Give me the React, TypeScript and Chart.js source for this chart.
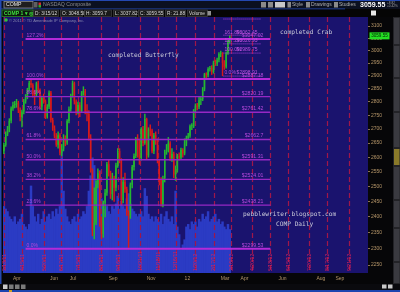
import React, { useEffect, useRef } from "react";
import { Chart, registerables } from "chart.js";

Chart.register(...registerables);

// ---- data (2-trading-day candles from 3/18/11 to 3/15/12) ----
const sessionStep = 2;
const firstOpen = 2621;
const closes = [
  2643, 2683, 2699, 2730, 2776, 2789, 2791, 2796, 2771, 2744, 2764, 2802, 2820, 2847, 2872,
  2864, 2828, 2827, 2871, 2845, 2783, 2815, 2803, 2746, 2782, 2835, 2733, 2702, 2676, 2644,
  2678, 2616, 2630, 2669, 2652, 2729, 2773, 2825, 2872, 2802, 2762, 2789, 2766, 2834, 2842,
  2764, 2756, 2669, 2556, 2357, 2381, 2507, 2545, 2381, 2345, 2446, 2479, 2576, 2546, 2474,
  2529, 2496, 2572, 2622, 2590, 2455, 2516, 2491, 2415, 2404, 2506, 2566, 2604, 2667, 2658,
  2598, 2699, 2650, 2737, 2606, 2698, 2695, 2621, 2678, 2658, 2587, 2523, 2441, 2527, 2620,
  2626, 2649, 2596, 2612, 2540, 2555, 2603, 2599, 2625, 2613, 2648, 2669, 2676, 2710, 2710,
  2769, 2786, 2782, 2806, 2811, 2848, 2906, 2902, 2927, 2931, 2915, 2952, 2948, 2963, 2987,
  2988, 2950, 2935, 2989, 3040, 3056,
];
const highs = [
  2650, 2690, 2710, 2738, 2782, 2800, 2802, 2810, 2803, 2778, 2770, 2810, 2828, 2852, 2880,
  2887, 2870, 2845, 2876, 2880, 2850, 2822, 2830, 2808, 2790, 2842, 2840, 2740, 2712, 2684,
  2690, 2684, 2645, 2680, 2676, 2735, 2782, 2830, 2880, 2876, 2808, 2800, 2798, 2840, 2858,
  2848, 2790, 2768, 2680, 2560, 2495, 2520, 2560, 2552, 2400, 2452, 2490, 2582, 2590, 2552,
  2545, 2535, 2580, 2630, 2630, 2595, 2530, 2545, 2498, 2420, 2512, 2572, 2612, 2670, 2680,
  2664, 2705, 2710, 2755, 2740, 2705, 2715, 2700, 2685, 2690, 2665, 2592, 2530, 2535, 2625,
  2645, 2670, 2655, 2630, 2618, 2570, 2610, 2615, 2632, 2630, 2665, 2675, 2685, 2715, 2720,
  2772, 2793, 2795, 2820, 2818, 2855, 2910, 2912, 2932, 2937, 2940, 2958, 2962, 2970, 2992,
  2998, 2992, 2960, 2995, 3045, 3060,
];
const lows = [
  2612, 2638, 2676, 2690, 2722, 2768, 2778, 2780, 2760, 2730, 2708, 2755, 2795, 2812, 2840,
  2855, 2818, 2790, 2820, 2835, 2775, 2770, 2795, 2738, 2740, 2775, 2725, 2695, 2668, 2638,
  2632, 2608, 2605, 2622, 2640, 2645, 2722, 2765, 2818, 2792, 2752, 2755, 2745, 2760, 2825,
  2755, 2730, 2660, 2548, 2340, 2330, 2375, 2495, 2370, 2330, 2335, 2400, 2470, 2535, 2460,
  2455, 2450, 2485, 2565, 2580, 2440, 2445, 2480, 2405, 2298, 2395, 2495, 2555, 2598, 2600,
  2575, 2590, 2640, 2645, 2595, 2600, 2675, 2615, 2612, 2645, 2580, 2505, 2435, 2432, 2515,
  2610, 2618, 2588, 2585, 2530, 2520, 2548, 2590, 2592, 2600, 2608, 2640, 2662, 2670, 2698,
  2705, 2762, 2770, 2775, 2790, 2805, 2842, 2892, 2896, 2918, 2905, 2910, 2940, 2940, 2955,
  2975, 2900, 2925, 2930, 2984, 3030,
];
const volumes = [
  2.6, 2.5, 2.4, 2.2,
  2.1, 2.0, 2.2, 1.9, 2.0, 2.1, 2.3, 1.9,
  1.8, 1.7, 1.9,
  3.4, 2.6,
  2.2, 2.0, 2.3, 1.9, 2.1, 2.4, 2.0, 2.2, 2.3, 2.1, 2.4, 2.2, 2.5, 2.3, 2.6,
  4.8, 3.2, 2.5,
  2.2, 2.0, 1.9, 2.1, 2.2, 2.0, 2.3, 2.1, 2.2, 2.4, 2.3, 2.6,
  3.2, 3.8, 4.5, 4.2, 3.6, 3.5, 4.0,
  2.9, 2.7, 2.5, 2.6, 2.4, 2.3, 2.6, 2.5, 2.7, 3.0,
  2.5, 2.8, 2.6, 2.5, 2.9, 3.1, 2.7, 2.5, 2.4, 2.3,
  2.2, 2.3, 2.4, 2.2,
  3.3, 3.0,
  2.3, 2.1, 2.2, 2.0, 2.2, 2.1, 2.0, 2.3, 1.9, 2.2, 2.4, 2.1, 2.0, 2.2, 1.9,
  3.2,
  1.8, 1.5,
  0.9, 1.1, 1.3,
  1.8, 1.9, 1.7, 2.0, 1.9, 2.0, 1.8, 2.1, 2.0,
  2.3, 2.1, 2.2, 2.4, 2.0, 2.1, 2.2, 2.3, 2.0, 2.1, 1.9, 2.0, 1.8, 1.7, 1.9, 1.7,
];
const lastPrice = 3059.55;

const priceTicks = [2250, 2300, 2350, 2400, 2450, 2500, 2550, 2600, 2650, 2700, 2750, 2800, 2850, 2900, 2950, 3000, 3050, 3100];
const monthLabels = ["Apr", "Jun", "Jul", "Sep", "Nov", "12", "Mar", "Apr", "Jun", "Aug", "Sep"];
const monthDays = [10, 51, 73, 116, 158, 200, 240, 262, 304, 346, 367];

const expiryLabels = ["3/18/11", "4/15/11", "5/20/11", "6/17/11", "7/15/11", "8/19/11", "9/16/11", "10/21/11", "11/18/11", "12/16/11", "1/20/12", "2/17/12", "3/16/12", "4/20/12", "5/18/12", "6/15/12", "7/20/12", "8/17/12", "9/21/12"];
const expiryDays = [0, 20, 44, 63, 82, 107, 126, 151, 171, 190, 212, 232, 251, 275, 295, 314, 338, 358, 382];

const butterflyPct = ["127.2%", "100.0%", "88.6%", "78.6%", "61.8%", "50.0%", "38.2%", "23.6%", "0.0%"];
const butterflyPrice = [3047.02, 2887.18, 2820.19, 2761.42, 2662.7, 2591.31, 2524.01, 2438.21, 2299.53];
const butterflyDays = [24, 295];

const crabPct = ["224.0%", "161.8%", "127.2%", "100.0%", "0.0%"];
const crabPrice = [3129.55, 3062.45, 3026.93, 2989.75, 2898.91];
const crabDays = [243, 262];

const headerFields = ["D: 3/15/12", "O: 3048.58", "H: 3059.7", "L: 3037.82", "C: 3059.55", "R: 21.88", "Volume"];

const SANS = '"Liberation Sans", Arial, sans-serif';
const MONO = '"DejaVu Sans Mono", "Liberation Mono", monospace';
const UP = "#24b830";
const DOWN = "#d81a1a";

function txt(ctx: any, s: string, x: number, y: number, color: string, size: number, o: any = {}) {
  ctx.fillStyle = color;
  ctx.font = `${o.bold ? "bold " : ""}${size}px ${o.family || SANS}`;
  ctx.textAlign = o.align || "left";
  ctx.textBaseline = o.baseline || "middle";
  ctx.fillText(s, x, y);
}

const decor = {
  id: "decor",
  beforeDraw(chart: any) {
    const { ctx, chartArea: a, width, height } = chart;
    ctx.save();
    ctx.fillStyle = "#060608";
    ctx.fillRect(0, 0, width, height);
    ctx.fillStyle = "#1a136e";
    ctx.fillRect(a.left, a.top, a.right - a.left, a.bottom - a.top);
    ctx.restore();
  },
  afterDatasetDraw(chart: any, args: any) {
    if (args.index !== 0) return;
    const { ctx, chartArea: a, scales } = chart;
    const xs = scales.x;
    ctx.save();
    ctx.strokeStyle = "#a0164a";
    ctx.lineWidth = 1.2;
    ctx.setLineDash([5, 3]);
    expiryDays.forEach((d) => {
      const x = Math.round(xs.getPixelForValue(d)) + 0.5;
      ctx.beginPath();
      ctx.moveTo(x, a.top);
      ctx.lineTo(x, a.bottom);
      ctx.stroke();
    });
    ctx.setLineDash([]);
    expiryDays.forEach((d, i) => {
      const x = xs.getPixelForValue(d);
      ctx.save();
      ctx.translate(x + 0.5, a.bottom - 2);
      ctx.rotate(-Math.PI / 2);
      txt(ctx, expiryLabels[i], 0, 0, "#d8205c", 5.2, { align: "left", baseline: "middle" });
      ctx.restore();
    });
    ctx.restore();
  },
  afterDatasetsDraw(chart: any) {
    const { ctx, scales } = chart;
    const xs = scales.x;
    const ys = scales.y;
    ctx.save();
    const bx0 = xs.getPixelForValue(butterflyDays[0]);
    const bx1 = xs.getPixelForValue(butterflyDays[1]);
    butterflyPrice.forEach((p, i) => {
      const y = ys.getPixelForValue(p);
      const strong = i === 0 || i === 1 || i === butterflyPrice.length - 1;
      ctx.strokeStyle = strong ? "#b42ad8" : "#9628c4";
      ctx.lineWidth = strong ? 2 : 1.4;
      ctx.beginPath();
      ctx.moveTo(bx0, y);
      ctx.lineTo(bx1, y);
      ctx.stroke();
      txt(ctx, butterflyPct[i], bx0 + 1, y - 3.5, "#b848dc", 5);
      txt(ctx, "$" + p, bx1 - 7, y - 3.5, "#b848dc", 5.2, { align: "right" });
    });
    const cx0 = xs.getPixelForValue(crabDays[0]);
    const cx1 = xs.getPixelForValue(crabDays[1]);
    ctx.setLineDash([1, 1]);
    crabPrice.forEach((p, i) => {
      const y = ys.getPixelForValue(p);
      ctx.strokeStyle = "#b040e0";
      ctx.lineWidth = 1;
      ctx.beginPath();
      ctx.moveTo(cx0, y);
      ctx.lineTo(cx1 + 20, y);
      ctx.stroke();
      txt(ctx, crabPct[i], cx0 + 1, y - 3, "#c050e0", 5);
      txt(ctx, "$" + p, cx1 - 4, y - 3, "#c050e0", 5);
    });
    ctx.setLineDash([]);
    txt(ctx, "completed Butterfly", 108, 55, "#c8c8d8", 6.2, { family: MONO });
    txt(ctx, "completed Crab", 280, 32, "#c8c8d8", 6.2, { family: MONO });
    txt(ctx, "pebblewriter.blogspot.com", 243, 214, "#c8c8d8", 6.2, { family: MONO });
    txt(ctx, "COMP Daily", 276, 224, "#c8c8d8", 6.2, { family: MONO });
    ctx.restore();
  },
  afterDraw(chart: any) {
    const { ctx, width, height, scales } = chart;
    ctx.save();
    ctx.fillStyle = "#30c040";
    ctx.beginPath();
    ctx.arc(6, 20, 1.8, 0, Math.PI * 2);
    ctx.fill();
    txt(ctx, "\u00a9 2011 \u00a9 TD Ameritrade IP Company, Inc.", 9, 20.5, "#8a8ab0", 4);

    ctx.fillStyle = "#0b1020";
    ctx.fillRect(0, 0, width, 9);
    ctx.fillStyle = "#050505";
    ctx.fillRect(0, 9, width, 8);
    ctx.fillStyle = "#2448b0";
    ctx.fillRect(0, 0, width, 1);
    ctx.fillRect(0, 0, 1.5, height);
    ctx.fillRect(0, 8.5, 345, 0.8);
    ctx.fillStyle = "#1e1e1e";
    ctx.fillRect(4, 1.5, 29, 6.5);
    ctx.strokeStyle = "#8a8a8a";
    ctx.lineWidth = 0.8;
    ctx.strokeRect(4, 1.5, 29, 6.5);
    txt(ctx, "COMP", 6, 5, "#f0f0f0", 5.2);
    ctx.fillStyle = "#606060";
    ctx.fillRect(34, 2, 3.5, 5.5);
    ctx.fillStyle = "#d03030";
    ctx.fillRect(38.5, 2.5, 2.5, 2.5);
    ctx.fillStyle = "#30b030";
    ctx.fillRect(38.5, 5, 2.5, 2.5);
    txt(ctx, "NASDAQ Composite", 43, 5, "#8c8c8c", 5.2);
    const icon = (x: number, w: number, c: string) => {
      ctx.fillStyle = c;
      ctx.fillRect(x, 2, w, 5.5);
    };
    icon(261, 5, "#8a8a8a");
    icon(268, 5, "#8a8a8a");
    icon(275, 10, "#c8c8c8");
    icon(287.5, 3.5, "#8a8a8a");
    txt(ctx, "Style", 292, 5, "#b0b0b0", 5);
    icon(306, 4, "#8a8a8a");
    txt(ctx, "Drawings", 311, 5, "#b0b0b0", 5);
    icon(334, 4, "#8a8a8a");
    txt(ctx, "Studies", 339, 5, "#b0b0b0", 5);
    txt(ctx, "3059.55", 360, 5, "#ffffff", 7, { bold: true });
    txt(ctx, "+8.82", 387, 2.8, "#a0a0a0", 3.2);
    txt(ctx, "+0.42%", 387, 6.6, "#a0a0a0", 3.2);
    ctx.fillStyle = "#0e160e";
    ctx.fillRect(2, 10, 31, 6.5);
    ctx.strokeStyle = "#2a8a2a";
    ctx.strokeRect(2, 10, 31, 6.5);
    txt(ctx, "COMP 1 \u25be \u25ce", 4, 13.4, "#3ee03e", 5, { bold: true });
    const fx = [35, 62, 86, 115, 140, 167, 189];
    const fw = [25, 22, 27, 23, 25, 20, 20];
    headerFields.forEach((f, i) => {
      ctx.fillStyle = "#1a1a1a";
      ctx.fillRect(fx[i] - 1.5, 10, fw[i], 6.5);
      ctx.strokeStyle = "#3c3c3c";
      ctx.strokeRect(fx[i] - 1.5, 10, fw[i], 6.5);
      txt(ctx, f, fx[i], 13.4, "#d8d8d8", 4.8);
    });
    ctx.fillStyle = "#909090";
    ctx.fillRect(207.5, 11, 3.5, 4.5);
    ctx.fillStyle = "#e8e8e8";
    ctx.fillRect(371, 10.5, 5, 5);

    const py = scales.y.getPixelForValue(lastPrice);
    ctx.fillStyle = "#24e024";
    ctx.fillRect(369.5, py - 3.5, 20, 7);
    txt(ctx, "3059.55", 379.5, py + 0.3, "#002000", 4.6, { align: "center" });

    ctx.fillStyle = "#232327";
    ctx.fillRect(393, 17, 7, 267);
    const tabs = [[17, 45], [45, 78], [78, 112], [112, 148], [148, 166], [166, 200], [200, 228], [228, 262], [262, 284]];
    tabs.forEach(([t, b], i) => {
      ctx.fillStyle = i === 4 ? "#8a7a2a" : "#3a3a40";
      ctx.fillRect(394, t + 1, 5.5, b - t - 2);
    });

    ctx.fillStyle = "#0a0a0e";
    ctx.fillRect(0, 284, width, 8);
    [3, 9, 15, 21].forEach((x, i) => {
      ctx.fillStyle = i === 0 ? "#c8c8c8" : "#7a7a7a";
      ctx.fillRect(x, 284.5, 4.5, 4.5);
    });
    ctx.fillStyle = "#c8c8c8";
    ctx.fillRect(382, 284.5, 4.5, 4);
    ctx.fillRect(388, 284.5, 4.5, 4);
    ctx.fillStyle = "#1c44b0";
    ctx.fillRect(0, 290, width, 2);
    ctx.fillStyle = "#d0a020";
    ctx.fillRect(9, 290, 3, 2);
    ctx.restore();
  },
};

export default function App() {
  const ref = useRef<HTMLCanvasElement | null>(null);

  useEffect(() => {
    if (!ref.current) return;
    const candleDay = closes.map((_, i) => i * sessionStep);
    const opens = closes.map((c, i) => (i === 0 ? firstOpen : closes[i - 1]));
    const colorOf = (c: any) => (closes[c.dataIndex] >= opens[c.dataIndex] ? UP : DOWN);

    const chart = new Chart(ref.current, {
      type: "bar",
      data: {
        datasets: [
          {
            type: "bar",
            label: "Volume",
            yAxisID: "yv",
            data: volumes.map((v, i) => ({ x: candleDay[i], y: v })),
            backgroundColor: "#2b3bc4",
            borderWidth: 0,
            barPercentage: 1,
            categoryPercentage: 1,
            grouped: false,
            order: 3,
          } as any,
          {
            type: "bar",
            label: "Wicks",
            yAxisID: "y",
            data: closes.map((_, i) => ({ x: candleDay[i], y: [lows[i], highs[i]] })),
            backgroundColor: colorOf,
            borderWidth: 0,
            barThickness: 0.8,
            grouped: false,
            order: 2,
          } as any,
          {
            type: "bar",
            label: "COMP",
            yAxisID: "y",
            data: closes.map((c, i) => ({ x: candleDay[i], y: [opens[i], c] })),
            backgroundColor: colorOf,
            borderWidth: 0,
            barPercentage: 0.8,
            categoryPercentage: 1,
            minBarLength: 1,
            grouped: false,
            order: 1,
          } as any,
        ],
      },
      options: {
        animation: false,
        responsive: false,
        maintainAspectRatio: false,
        events: [],
        layout: { padding: { left: 3, right: 7, top: 17, bottom: 8 } },
        plugins: { legend: { display: false }, tooltip: { enabled: false } },
        scales: {
          x: {
            type: "linear",
            min: -1,
            max: 403,
            offset: false,
            afterBuildTicks: (s: any) => {
              s.ticks = monthDays.map((v) => ({ value: v }));
            },
            afterFit: (s: any) => {
              s.height = 11;
            },
            ticks: {
              autoSkip: false,
              maxRotation: 0,
              minRotation: 0,
              align: "start",
              padding: 3,
              color: "#b8986a",
              font: { size: 5, family: SANS },
              callback: (_v: any, i: number) => monthLabels[i],
            },
            grid: { display: false, drawTicks: false, offset: false },
            border: { display: false },
          },
          y: {
            type: "logarithmic",
            position: "right",
            min: 2226,
            max: 3138,
            afterBuildTicks: (s: any) => {
              s.ticks = priceTicks.map((v) => ({ value: v }));
            },
            afterFit: (s: any) => {
              s.width = 25;
            },
            ticks: {
              autoSkip: false,
              padding: 1,
              color: "#b8986a",
              font: { size: 5, family: SANS },
              callback: (v: any) => String(v),
            },
            grid: { display: true, drawOnChartArea: false, drawTicks: true, tickLength: 2, color: "#8a7050" },
            border: { display: false },
          },
          yv: { type: "linear", display: false, min: 0, max: 10 },
        },
      } as any,
      plugins: [decor],
    });
    return () => chart.destroy();
  }, []);

  return (
    <div style={{ position: "fixed", left: 0, top: 0, width: 400, height: 292, background: "#060608" }}>
      <canvas ref={ref} width={400} height={292} style={{ display: "block", width: 400, height: 292 }} />
    </div>
  );
}
